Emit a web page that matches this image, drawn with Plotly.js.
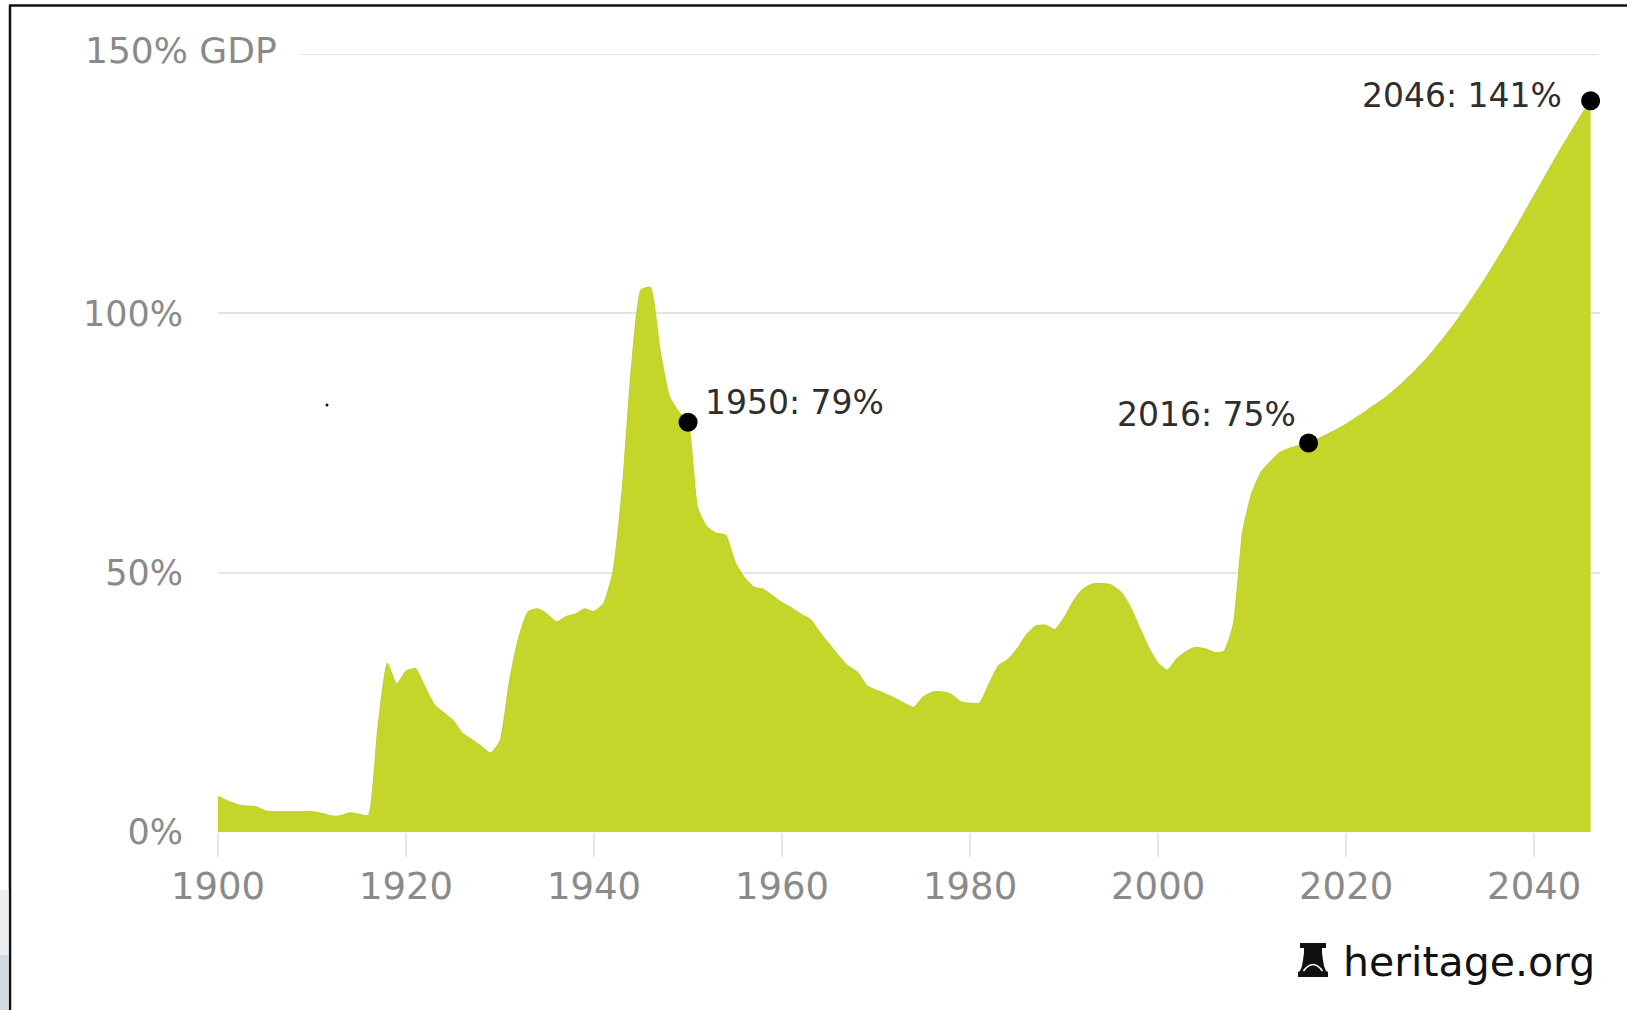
<!DOCTYPE html>
<html>
<head>
<meta charset="utf-8">
<script src="https://cdn.plot.ly/plotly-3.0.1.min.js"></script>
<style>
  html, body { margin: 0; padding: 0; background: #ffffff; }
  #chart { width: 1627px; height: 1010px; }
</style>
</head>
<body>
<div id="chart"></div>
<script>
// Federal debt held by the public, % of GDP — history and long-term outlook
const firstYear = 1900;

const debt1900to1949 = [
  6.9, 6.0, 5.3, 5.0, 4.9, 4.1, 3.9, 3.9, 3.9, 3.9,
  3.9, 3.6, 3.1, 3.1, 3.7, 3.4, 3.2, 20.0, 32.5, 28.5,
  31.0, 31.5, 28.0, 24.5, 23.0, 21.5, 19.0, 17.8, 16.5, 15.2,
  17.5, 29.0, 37.5, 42.5, 43.0, 42.0, 40.5, 41.5, 42.0, 43.0,
  42.5, 44.0, 50.0, 66.0, 90.0, 104.5, 105.0, 93.0, 84.0, 81.0
];

const debt1950to1999 = [
  79.0, 62.5, 58.8, 57.6, 57.2, 52.0, 49.0, 47.2, 46.8, 45.5,
  44.2, 43.2, 42.0, 41.0, 38.5, 36.2, 34.0, 32.0, 30.8, 28.2,
  27.3, 26.6, 25.8, 24.8, 24.0, 26.0, 27.0, 27.0, 26.5, 25.1,
  24.8, 24.8, 28.5, 32.0, 33.2, 35.3, 38.0, 39.7, 39.9, 39.0,
  41.3, 44.5, 46.8, 47.8, 47.9, 47.6, 46.3, 43.5, 39.5, 35.5
];

const debt2000to2046 = [
  32.5, 31.2, 33.4, 34.8, 35.6, 35.3, 34.6, 34.8, 40.0, 58.0,
  65.5, 69.5, 71.5, 73.2, 74.0, 74.5, 75.0, 75.8, 76.7, 77.6,
  78.6, 79.8, 81.0, 82.3, 83.5, 85.0, 86.6, 88.3, 90.2, 92.2,
  94.4, 96.7, 99.2, 101.8, 104.5, 107.3, 110.2, 113.2, 116.3, 119.5,
  122.7, 125.9, 129.1, 132.2, 135.2, 138.2, 141.0
];

// Highlighted years and their values
const calloutYears = [1950, 2016, 2046];
const calloutValues = [79, 75, 141];

// Axis ticks
const xTickVals = [1900, 1920, 1940, 1960, 1980, 2000, 2020, 2040];
const yTickVals = [0, 50, 100];
const yTickText = ['0%', '50%', '100%'];
const yTopValue = 150;
const yTopLabel = '150% GDP';
const sourceText = 'heritage.org';

const debtShare = debt1900to1949.concat(debt1950to1999, debt2000to2046);
const years = debtShare.map((_, i) => firstYear + i);

// Page geometry (pixels) and helpers to place decorations in paper space
const W = 1627, H = 1010;
const M = { l: 218, r: 27, t: 54, b: 178 };
const PW = W - M.l - M.r, PH = H - M.t - M.b;
const px = x => (x - M.l) / PW;
const py = y => (H - M.b - y) / PH;
const pathFrom = pts => 'M ' + pts.map(p => px(p[0]) + ',' + py(p[1])).join(' L ') + ' Z';

const FONT = 'DejaVu Sans, Verdana, sans-serif';
const GREEN = '#c4d62a';
const GRID = '#e4e4e4';

const area = {
  x: years,
  y: debtShare,
  type: 'scatter',
  mode: 'lines',
  fill: 'tozeroy',
  fillcolor: GREEN,
  line: { color: '#bfd12b', width: 1.2, shape: 'spline', smoothing: 0.5 },
  hoverinfo: 'skip'
};

const dots = {
  x: calloutYears,
  y: calloutValues,
  type: 'scatter',
  mode: 'markers',
  marker: { color: '#000000', size: 19 },
  hoverinfo: 'skip'
};

// Label placement for each highlighted point
const calloutStyle = [
  { xanchor: 'left',  xshift: 15,  yshift: 20 },
  { xanchor: 'right', xshift: -11, yshift: 29 },
  { xanchor: 'right', xshift: -27, yshift: 5 }
];

const annotations = calloutYears.map((yr, i) => ({
  x: yr, y: calloutValues[i], xref: 'x', yref: 'y',
  text: yr + ': ' + calloutValues[i] + '%',
  showarrow: false,
  xanchor: calloutStyle[i].xanchor, yanchor: 'middle',
  xshift: calloutStyle[i].xshift, yshift: calloutStyle[i].yshift,
  font: { family: FONT, size: 33, color: '#2e2e2e' }
}));

annotations.push({
  x: px(83), y: yTopValue, xref: 'paper', yref: 'y',
  text: yTopLabel, showarrow: false,
  xanchor: 'left', yanchor: 'middle', yshift: 4,
  font: { family: FONT, size: 36, color: '#8a8a8a' }
});

annotations.push({
  x: px(1341), y: py(962), xref: 'paper', yref: 'paper',
  text: sourceText, showarrow: false,
  xanchor: 'left', yanchor: 'middle',
  font: { family: FONT, size: 41, color: '#111111' }
});

const shapes = [
  // top gridline, starting after its label
  { type: 'line', xref: 'paper', yref: 'y', layer: 'below',
    x0: px(301), x1: px(1598), y0: yTopValue, y1: yTopValue,
    line: { color: GRID, width: 2 } },
  // outer frame: top and left rules
  { type: 'line', xref: 'paper', yref: 'paper', layer: 'above',
    x0: px(9), x1: px(1627), y0: py(5.5), y1: py(5.5),
    line: { color: '#111111', width: 2.5 } },
  { type: 'line', xref: 'paper', yref: 'paper', layer: 'above',
    x0: px(10), x1: px(10), y0: py(5), y1: py(1010),
    line: { color: '#111111', width: 2.5 } },
  // grey edge strip at the lower left
  { type: 'rect', xref: 'paper', yref: 'paper', layer: 'above',
    x0: px(0), x1: px(8.5), y0: py(890), y1: py(955),
    fillcolor: '#eceef1', line: { width: 0 } },
  { type: 'rect', xref: 'paper', yref: 'paper', layer: 'above',
    x0: px(0), x1: px(8.5), y0: py(955), y1: py(1010),
    fillcolor: '#d3d9e1', line: { width: 0 } },
  // small speck
  { type: 'circle', xref: 'paper', yref: 'paper', layer: 'above',
    x0: px(325.5), x1: px(328.5), y0: py(403.5), y1: py(406.5),
    fillcolor: '#111111', line: { width: 0 } },
  // bell logo
  { type: 'path', xref: 'paper', yref: 'paper', layer: 'above',
    path: pathFrom([
      [1300, 943], [1326, 943], [1326, 948], [1322, 948], [1322, 953],
      [1323, 960], [1324, 966], [1326, 971], [1328, 972], [1328, 977],
      [1298, 977], [1298, 972], [1300, 971], [1302, 966], [1303, 960],
      [1304, 953], [1304, 948], [1300, 948]
    ]),
    fillcolor: '#111111', line: { width: 0 } },
  { type: 'path', xref: 'paper', yref: 'paper', layer: 'above',
    path: 'M ' + px(1303.5) + ',' + py(971) + ' Q ' + px(1313) + ',' + py(958) + ' ' + px(1322.5) + ',' + py(971),
    line: { color: '#ffffff', width: 1.6 } }
];

const layout = {
  width: W, height: H,
  margin: M,
  paper_bgcolor: '#ffffff',
  plot_bgcolor: '#ffffff',
  showlegend: false,
  hovermode: false,
  xaxis: {
    range: [1900, 2047],
    tickvals: xTickVals,
    ticks: 'outside', ticklen: 24, tickwidth: 1.5, tickcolor: '#e6e6e6',
    showgrid: false, zeroline: false, showline: false,
    ticklabelstandoff: -2,
    tickfont: { family: FONT, size: 37, color: '#8a8a8a' }
  },
  yaxis: {
    range: [0, 150],
    tickvals: yTickVals, ticktext: yTickText,
    showgrid: true, gridcolor: GRID, gridwidth: 2,
    zeroline: false, showline: false, ticks: '',
    ticklabelstandoff: 34,
    tickfont: { family: FONT, size: 35, color: '#8a8a8a' }
  },
  annotations: annotations,
  shapes: shapes
};

Plotly.newPlot('chart', [area, dots], layout, { staticPlot: true, displayModeBar: false });
</script>
</body>
</html>
